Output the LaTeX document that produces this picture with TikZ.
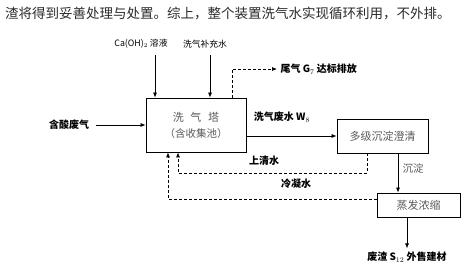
\documentclass[tikz,border=0pt]{standalone}
\usepackage{fontspec}
\setmainfont{Liberation Sans}
\newfontfamily\cjk{Noto Sans CJK SC}
\usepackage{xcolor}
\usepackage{tikz}
\usetikzlibrary{arrows.meta,positioning,calc}
\definecolor{boxgray}{HTML}{5A5A5A}
\definecolor{introgray}{HTML}{2A2A2A}

\begin{document}
\begin{tikzpicture}[x=1pt,y=-1pt,
  unitbox/.style={draw,line width=0.8pt,inner sep=0pt,text=boxgray,font=\cjk\fontsize{11}{13}\selectfont},
  tag/.style={font=\cjk\bfseries\fontsize{10}{12}\selectfont},
  flow/.style={line width=0.7pt,-{Latex[length=5pt,width=4pt]}},
  back/.style={flow,dash pattern=on 3pt off 2pt}]
  \useasboundingbox (0,0) rectangle (470,272);
  % text line above the chart
  \node[anchor=west,inner sep=0pt,text=introgray,font=\cjk\fontsize{13.5}{16}\selectfont] (intro) at (5,14)
    {渣将得到妥善处理与处置。综上，整个装置洗气水实现循环利用，不外排。};
  % units
  \node[unitbox,minimum width=100,minimum height=54,align=center] (tower) at (196,125)
    {洗\hspace{0.6em}气\hspace{0.6em}塔\\[3pt]{\fontsize{10.5}{12}\selectfont （含收集池）}};
  \node[unitbox,minimum width=91,minimum height=34] (clar) at (382.5,136) {多级沉淀澄清};
  \node[unitbox,minimum width=83,minimum height=24] (evap) at (418.5,205) {蒸发浓缩};
  % feeds on top
  \node[font=\cjk\fontsize{8.8}{10}\selectfont] (lime) at (141,44) {Ca(OH)$_2$ 溶液};
  \node[font=\cjk\fontsize{8.8}{10}\selectfont] (makeup) at (205,44) {洗气补充水};
  \coordinate (limein) at (155,55);
  \coordinate (makeupin) at (210,55);
  \draw[flow] (limein) -- (limein |- tower.north);
  \draw[flow] (makeupin) -- (makeupin |- tower.north);
  % tail gas
  \node[tag,anchor=west] (tail) at (277,69) {尾气 G$_7$ 达标排放};
  \coordinate (tailup) at (232,69);
  \draw[back] (tower.north -| tailup) -- (tailup) -- (tail.west);
  % inlet gas
  \node[tag] (acid) at (69,125) {含酸废气};
  \draw[flow] (acid.east) ++(3,0) -- (tower.west);
  % waste water to clarifier
  \node[tag] (wash) at (282,117) {洗气废水 W$_8$};
  \draw[flow] (tower.east |- clar) -- (clar.west);
  % supernatant back
  \node[tag] (clear) at (264,161) {上清水};
  \coordinate (clarturn) at (367,173);
  \coordinate (clearup) at (178,173);
  \draw[back] (clar.south -| clarturn) -- (clarturn) -- (clearup) -- (clearup |- tower.south);
  % condensate back
  \node[tag] (cond) at (296,184) {冷凝水};
  \coordinate (condup) at (168,199);
  \draw[back] (evap.west |- condup) -- (condup) -- (condup |- tower.south);
  % sludge
  \coordinate (sludge) at (398,170);
  \node[anchor=west,text=boxgray,font=\cjk\fontsize{10.5}{12}\selectfont] (sludgetag) at (399,168) {沉淀};
  \draw[flow] (clar.south -| sludge) -- (evap.north -| sludge);
  % residue
  \node[tag] (slag) at (407,257) {废渣 S$_{12}$ 外售建材};
  \draw[flow] (evap.south -| slag) -- (slag.north);
\end{tikzpicture}
\end{document}
